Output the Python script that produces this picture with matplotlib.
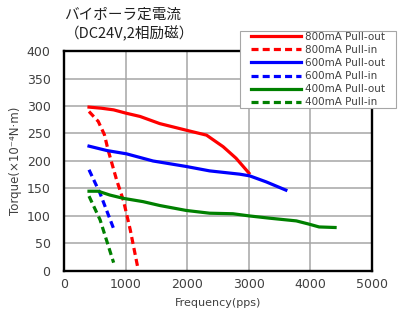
import matplotlib
matplotlib.use("Agg")
import matplotlib.pyplot as plt

plt.rcParams['font.family'] = ['DejaVu Sans', 'Noto Sans CJK JP']

# Values (frequency in pps, torque in x10^-4 N·m)
red_out_f = [400, 600, 800, 1000, 1230, 1550, 1980, 2310, 2580, 2790, 3000]
red_out_t = [298, 296, 293, 287, 281, 268, 256, 247, 226, 205, 178]
red_in_f = [400, 550, 650, 710, 850, 960, 1070, 1200]
red_in_t = [290, 272, 248, 220, 165, 128, 75, 2]

blue_out_f = [400, 690, 1010, 1440, 1980, 2360, 2850, 3010, 3280, 3600]
blue_out_t = [227, 219, 213, 200, 190, 182, 176, 173, 162, 147]
blue_in_f = [400, 580, 800]
blue_in_t = [184, 141, 77]

green_out_f = [400, 550, 740, 960, 1280, 1550, 1980, 2360, 2740, 3010, 3330, 3770, 3980, 4140, 4400]
green_out_t = [145, 145, 138, 132, 126, 119, 110, 105, 104, 100, 96, 91, 85, 80, 79]
green_in_f = [400, 580, 800]
green_in_t = [136, 93, 15]

fig = plt.figure(figsize=(4.0, 3.21), dpi=100)
ax = fig.add_axes([0.161, 0.156, 0.769, 0.685])

lw = 2.3
dash = (0, (2.2, 1.3))
ax.plot(red_out_f, red_out_t, color='#ff0000', lw=lw, label='800mA Pull-out')
ax.plot(red_in_f, red_in_t, color='#ff0000', lw=lw, ls=dash, label='800mA Pull-in')
ax.plot(blue_out_f, blue_out_t, color='#0000ff', lw=lw, label='600mA Pull-out')
ax.plot(blue_in_f, blue_in_t, color='#0000ff', lw=lw, ls=dash, label='600mA Pull-in')
ax.plot(green_out_f, green_out_t, color='#008000', lw=lw, label='400mA Pull-out')
ax.plot(green_in_f, green_in_t, color='#008000', lw=lw, ls=dash, label='400mA Pull-in')

ax.set_xlim(0, 5000)
ax.set_ylim(0, 400)
ax.set_xticks(range(0, 5001, 1000))
ax.set_yticks(range(0, 401, 50))
ax.grid(True, color='#a6a6a6', lw=1.1)
ax.set_axisbelow(True)
ax.tick_params(length=0, labelsize=9, labelcolor='#404040')
ax.tick_params(axis='y', pad=10)
ax.tick_params(axis='x', pad=5)
for s in ax.spines.values():
    s.set_linewidth(1.7)
    s.set_color('black')

ax.set_xlabel('Frequency(pps)', fontsize=8, color='#404040', labelpad=5)
ax.set_ylabel('Torque(×10⁻⁴N·m)', fontsize=8.5, color='#404040', labelpad=3)

title_font = ['Noto Sans CJK JP', 'DejaVu Sans']
fig.text(0.161, 0.953, 'バイポーラ定電流', fontsize=10.5, color='#202020', va='center', family=title_font)
fig.text(0.161, 0.895, '（DC24V,2相励磁）', fontsize=10.5, color='#202020', va='center', family=title_font)

leg = ax.legend(loc='upper right', bbox_to_anchor=(0.9625, 0.901), bbox_transform=fig.transFigure,
                fontsize=7.5, frameon=True, fancybox=False, handlelength=4.8,
                labelspacing=0.3, borderpad=0, handletextpad=0.4, framealpha=1,
                borderaxespad=0)
frame = leg.get_frame()
frame.set_boxstyle('square', pad=1.05)
frame.set_mutation_aspect(0.1)
frame.set_edgecolor('#a6a6a6')
frame.set_linewidth(0.8)
for t in leg.get_texts():
    t.set_color('#404040')

fig.savefig('out.png', dpi=100)
